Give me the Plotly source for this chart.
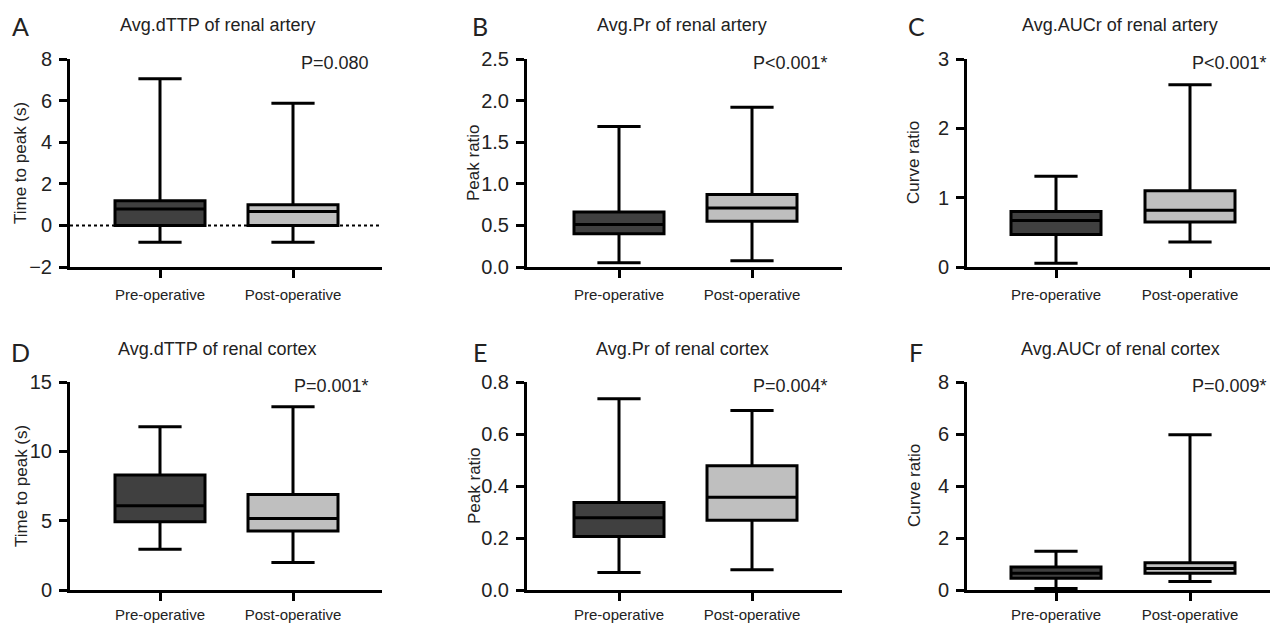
import plotly.graph_objects as go

W, H = 1271, 625

groups = ["Pre-operative", "Post-operative"]
fill_colors = ["#404040", "#bfbfbf"]

panel_letters = ["A", "B", "C", "D", "E", "F"]
panel_titles = ["Avg.dTTP of renal artery", "Avg.Pr of renal artery", "Avg.AUCr of renal artery",
                "Avg.dTTP of renal cortex", "Avg.Pr of renal cortex", "Avg.AUCr of renal cortex"]
p_values = ["P=0.080", "P<0.001*", "P<0.001*", "P=0.001*", "P=0.004*", "P=0.009*"]
y_titles = ["Time to peak (s)", "Peak ratio", "Curve ratio",
            "Time to peak (s)", "Peak ratio", "Curve ratio"]

# [pre, post] statistics per panel
lower = [[-0.81, -0.81], [0.052, 0.076], [0.053, 0.36], [2.93, 1.99], [0.067, 0.078], [0.06, 0.33]]
q1 = [[0.0, 0.0], [0.40, 0.55], [0.47, 0.65], [4.92, 4.25], [0.206, 0.268], [0.45, 0.64]]
median = [[0.79, 0.67], [0.51, 0.71], [0.67, 0.82], [6.07, 5.16], [0.278, 0.357], [0.64, 0.83]]
q3 = [[1.19, 0.99], [0.66, 0.87], [0.80, 1.10], [8.30, 6.89], [0.337, 0.478], [0.88, 1.05]]
upper = [[7.05, 5.87], [1.69, 1.92], [1.31, 2.63], [11.78, 13.22], [0.736, 0.69], [1.49, 5.97]]

y_ranges = [[-2, 8], [0, 2.5], [0, 3], [0, 15], [0, 0.8], [0, 8]]
y_ticks = [[-2, 0, 2, 4, 6, 8], [0, 0.5, 1.0, 1.5, 2.0, 2.5], [0, 1, 2, 3],
           [0, 5, 10, 15], [0, 0.2, 0.4, 0.6, 0.8], [0, 2, 4, 6, 8]]
y_formats = ["d", ".1f", "d", "d", ".1f", "d"]

# layout geometry (pixels)
col_px = [(70, 382, 160, 133), (527, 842, 619, 133), (967, 1270, 1056, 134)]
row_px = [(59, 267), (382, 590)]
xlabel_standoff = [4, 1]
letter_x = [20, 480, 916]
title_x = [217, 682, 1120]
pval_x = [371, 830, 1269]
ytitle_x = [21, 474, 914]

FONT = "Liberation Sans, Arial, sans-serif"
fig = go.Figure()
annotations = []
shapes = []
layout = {}

for i in range(6):
    r, c = divmod(i, 3)
    x0, x1, xpre, sp = col_px[c]
    yt, yb = row_px[r]
    n = "" if i == 0 else str(i + 1)
    xa, ya = "x" + n, "y" + n
    for g in range(2):
        fig.add_trace(go.Box(
            x=[g], q1=[q1[i][g]], median=[median[i][g]], q3=[q3[i][g]],
            lowerfence=[lower[i][g]], upperfence=[upper[i][g]],
            xaxis=xa, yaxis=ya, width=90 / sp, whiskerwidth=0.48,
            fillcolor=fill_colors[g], line=dict(color="black", width=3),
            boxpoints=False, showlegend=False, hoverinfo="skip", name=groups[g]))
    layout["xaxis" + n] = dict(
        domain=[x0 / W, x1 / W], anchor=ya, automargin=False,
        range=[-(xpre - x0) / sp, (x1 - xpre) / sp],
        tickmode="array", tickvals=[0, 1], ticktext=groups,
        ticks="outside", ticklen=8, tickwidth=3, tickcolor="black",
        showline=True, linecolor="black", linewidth=3,
        showgrid=False, zeroline=False, ticklabelstandoff=xlabel_standoff[r],
        tickfont=dict(family=FONT, size=15, color="#222"))
    layout["yaxis" + n] = dict(
        domain=[1 - yb / H, 1 - yt / H], anchor=xa, automargin=False,
        range=y_ranges[i], tickmode="array", tickvals=y_ticks[i], tickformat=y_formats[i],
        ticks="outside", ticklen=8, tickwidth=3, tickcolor="black",
        showline=True, linecolor="black", linewidth=3,
        showgrid=False, zeroline=False, ticklabelstandoff=3,
        tickfont=dict(family=FONT, size=20, color="#222"))
    annotations.append(dict(text=panel_letters[i], x=letter_x[c] / W, y=1 - (26 + r * 326) / H,
                            xref="paper", yref="paper", xanchor="center", yanchor="middle",
                            showarrow=False, font=dict(family="Lato, sans-serif", size=25, color="#222")))
    annotations.append(dict(text=panel_titles[i], x=title_x[c] / W, y=1 - (25 + r * 324) / H,
                            xref="paper", yref="paper", xanchor="center", yanchor="middle",
                            showarrow=False, font=dict(family=FONT, size=18, color="#222")))
    annotations.append(dict(text=p_values[i], x=pval_x[c] / W, y=1 - (yt + 4) / H,
                            xref="paper", yref="paper", xanchor="right", yanchor="middle",
                            showarrow=False, font=dict(family=FONT, size=18, color="#222")))
    annotations.append(dict(text=y_titles[i], x=ytitle_x[c] / W, y=1 - ((yt + yb) / 2) / H,
                            xref="paper", yref="paper", xanchor="center", yanchor="middle",
                            textangle=-90, showarrow=False,
                            font=dict(family=FONT, size=17, color="#222")))

shapes.append(dict(type="line", xref="x domain", yref="y", x0=0, x1=1, y0=0, y1=0,
                   line=dict(color="black", width=2, dash="dot"), layer="below"))

fig.update_layout(**layout)
fig.update_layout(width=W, height=H, margin=dict(l=0, r=0, t=0, b=0, autoexpand=False),
                  plot_bgcolor="white", paper_bgcolor="white", boxmode="overlay",
                  annotations=annotations, shapes=shapes, showlegend=False)
fig.write_html("out.html", config={"displayModeBar": False},
               post_script="document.body.style.margin='0';document.body.style.overflow='hidden';")
